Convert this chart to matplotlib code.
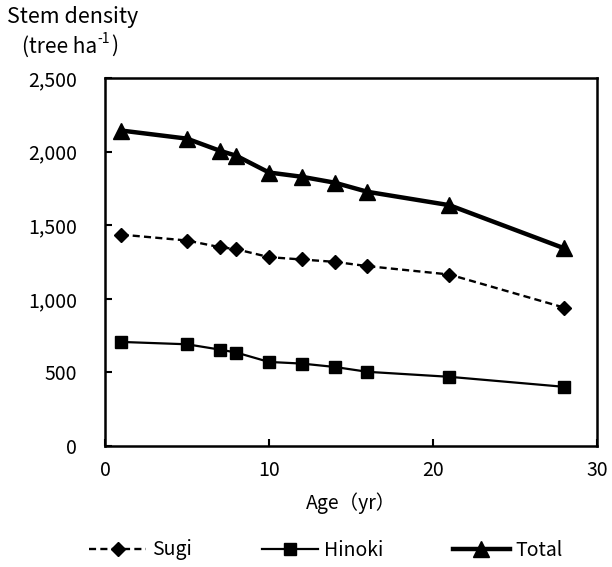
import matplotlib.pyplot as plt
from matplotlib.ticker import FuncFormatter

plt.rcParams['font.family'] = ['Noto Sans CJK JP', 'DejaVu Sans']

# stand age (yr)
age = [1, 5, 7, 8, 10, 12, 14, 16, 21, 28]
# stem density (tree/ha)
sugi = [1436, 1396, 1351, 1337, 1283, 1267, 1251, 1222, 1165, 940]
hinoki = [707, 691, 655, 635, 571, 560, 537, 504, 470, 402]
total = [2143, 2088, 2006, 1972, 1858, 1829, 1789, 1727, 1636, 1343]

fig = plt.figure(figsize=(6.12, 5.67), dpi=100)
ax = fig.add_axes([105 / 612, 1 - 446 / 567, 492 / 612, 368 / 567])

ax.plot(age, sugi, color='black', lw=1.7, ls=(0, (3, 1.8)), marker='D', ms=7, label='Sugi')
ax.plot(age, hinoki, color='black', lw=1.6, marker='s', ms=8, label='Hinoki')
ax.plot(age, total, color='black', lw=3.2, marker='^', ms=12, label='Total')

ax.set_xlim(0, 30)
ax.set_ylim(0, 2500)
ax.set_xticks([0, 10, 20, 30])
ax.set_yticks([0, 500, 1000, 1500, 2000, 2500])
ax.yaxis.set_major_formatter(FuncFormatter(lambda v, p: f'{int(v):,}'))
ax.tick_params(direction='in', length=5, width=1.5, labelsize=14)
ax.tick_params(axis='x', pad=10)
ax.tick_params(axis='y', pad=20)
for s in ax.spines.values():
    s.set_linewidth(1.8)

ax.set_xlabel('Age（yr）', fontsize=14, labelpad=8)

# y label written in two lines above the axis, with small superscript
fig.text(7 / 612, 1 - 17 / 567, 'Stem density', fontsize=15.5, va='center', ha='left')
t1 = fig.text(22 / 612, 1 - 47 / 567, '(tree ha', fontsize=15, va='center', ha='left')
sup = ax.annotate('-1', xy=(1, 0.55), xycoords=t1, xytext=(0.5, 0), textcoords='offset points',
                  fontsize=10, va='bottom', ha='left', annotation_clip=False)
ax.annotate(')', xy=(1, 0), xycoords=sup, xytext=(0.5, 0), textcoords='offset points',
            fontsize=15, va='center', ha='left', annotation_clip=False)

fig.legend(loc='center', bbox_to_anchor=(326 / 612, 1 - 550 / 567), ncol=3, frameon=False,
           fontsize=14, handlelength=2.9, columnspacing=3.6, handletextpad=0.3)

fig.savefig('out.png', dpi=100)
